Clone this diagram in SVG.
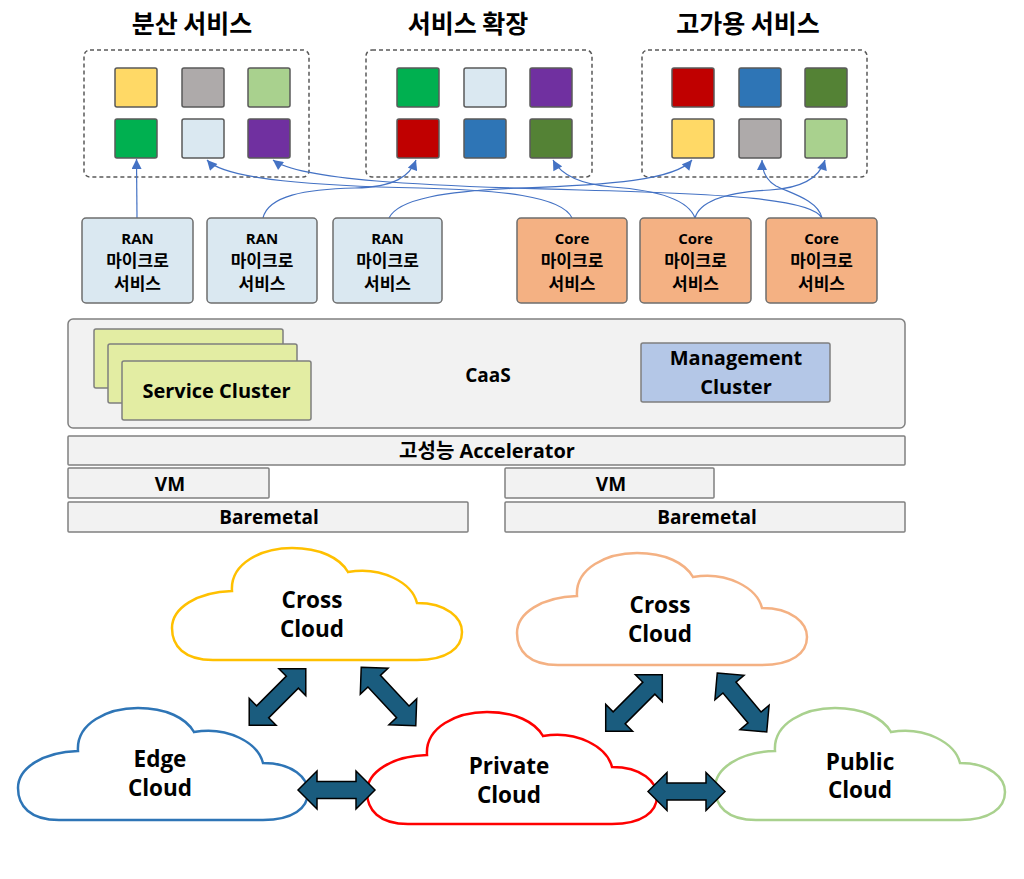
<svg xmlns="http://www.w3.org/2000/svg" xmlns:xlink="http://www.w3.org/1999/xlink" width="1024" height="879" viewBox="0 0 1024 879">
<style>
.lat{font-family:"Open Sans","Noto Sans CJK KR",sans-serif;font-weight:700;fill:#000;text-anchor:middle}
.kr{font-family:"Noto Sans CJK KR",sans-serif;font-weight:700;fill:#000;text-anchor:middle}
.ms{font-family:"Noto Sans CJK KR",sans-serif;font-weight:700;fill:#000;text-anchor:middle;font-size:17px}
.dash{fill:none;stroke:#595959;stroke-width:1.5;stroke-dasharray:4 3}
.sq{stroke:#595959;stroke-width:1.5}
.ran{fill:#DAE8F1;stroke:#6E6E6E;stroke-width:1.5}
.core{fill:#F4B183;stroke:#6E6E6E;stroke-width:1.5}
.layer{fill:#F2F2F2;stroke:#808080;stroke-width:1.5}
.sc{fill:#E3EDA3;stroke:#7F7F7F;stroke-width:1.5}
.conn{fill:none;stroke:#4472C4;stroke-width:1.2;marker-end:url(#ah)}
.cloud{fill:#fff;stroke-width:2.5}
.dbl{fill:#1A5C7E;stroke:#000;stroke-width:1.5;stroke-linejoin:miter}
</style>
<defs>
<marker id="ah" viewBox="0 0 10 10" refX="10" refY="5" markerUnits="userSpaceOnUse" markerWidth="11" markerHeight="10" orient="auto">
<path d="M0 0 L10 5 L0 10 Z" fill="#4472C4"/>
</marker>
<path id="cloudShape" d="M 41 112 C 12 112 0 98 0 80 C 0 60 25 44 60 43 C 58 15 90 0 120 0 C 148 0 168 10 176 24 C 210 18 240 35 245 55 C 275 55 290 70 290 84 C 290 100 275 112 245 112 Z"/>
<polygon id="dbl77" points="-38.5,0 -19.5,-19 -19.5,-8.5 19.5,-8.5 19.5,-19 38.5,0 19.5,19 19.5,8.5 -19.5,8.5 -19.5,19"/>
<polygon id="dbl80" points="-40,0 -21,-19 -21,-8.5 21,-8.5 21,-19 40,0 21,19 21,8.5 -21,8.5 -21,19"/>
</defs>
<rect width="1024" height="879" fill="#fff"/>

<g id="svc-distributed">
<text class="kr" x="192" y="33" font-size="25">분산 서비스</text>
<rect class="dash" x="84" y="50" width="225" height="127" rx="6"/>
<rect class="sq" x="115" y="68" width="42" height="39" rx="2" fill="#FFD966"/>
<rect class="sq" x="182" y="68" width="42" height="39" rx="2" fill="#AEAAAA"/>
<rect class="sq" x="248" y="68" width="42" height="39" rx="2" fill="#A9D18E"/>
<rect class="sq" x="115" y="119" width="42" height="39" rx="2" fill="#00B050"/>
<rect class="sq" x="182" y="119" width="42" height="39" rx="2" fill="#DAE8F1"/>
<rect class="sq" x="248" y="119" width="42" height="39" rx="2" fill="#7030A0"/>
</g>
<g id="svc-scale">
<text class="kr" x="468" y="33" font-size="25">서비스 확장</text>
<rect class="dash" x="366" y="50" width="226" height="127" rx="6"/>
<rect class="sq" x="397" y="68" width="42" height="39" rx="2" fill="#00B050"/>
<rect class="sq" x="464" y="68" width="42" height="39" rx="2" fill="#DAE8F1"/>
<rect class="sq" x="530" y="68" width="42" height="39" rx="2" fill="#7030A0"/>
<rect class="sq" x="397" y="119" width="42" height="39" rx="2" fill="#C00000"/>
<rect class="sq" x="464" y="119" width="42" height="39" rx="2" fill="#2E75B6"/>
<rect class="sq" x="530" y="119" width="42" height="39" rx="2" fill="#548235"/>
</g>
<g id="svc-ha">
<text class="kr" x="748" y="33" font-size="25">고가용 서비스</text>
<rect class="dash" x="642" y="50" width="225" height="127" rx="6"/>
<rect class="sq" x="672" y="68" width="42" height="39" rx="2" fill="#C00000"/>
<rect class="sq" x="739" y="68" width="42" height="39" rx="2" fill="#2E75B6"/>
<rect class="sq" x="805" y="68" width="42" height="39" rx="2" fill="#548235"/>
<rect class="sq" x="672" y="119" width="42" height="39" rx="2" fill="#FFD966"/>
<rect class="sq" x="739" y="119" width="42" height="39" rx="2" fill="#AEAAAA"/>
<rect class="sq" x="805" y="119" width="42" height="39" rx="2" fill="#A9D18E"/>
</g>

<g id="connectors">
<path class="conn" d="M 137 218 L 136.5 159"/>
<path class="conn" d="M 263 218 C 268 196 305 189 355 188 C 395 187 410 176 416 160"/>
<path class="conn" d="M 389 218 C 398 199 445 191 520 188 C 610 185 675 180 692 160"/>
<path class="conn" d="M 572 218 C 562 196 500 190 420 188 C 320 186 225 180 207 160"/>
<path class="conn" d="M 822 218 C 812 199 730 194 580 190 C 420 186 300 180 273 160"/>
<path class="conn" d="M 695 218 C 688 199 655 190 612 187 C 578 184 560 173 553 160"/>
<path class="conn" d="M 695 218 C 700 200 730 192 770 190 C 805 188 820 176 825 160"/>
<path class="conn" d="M 822 218 C 818 200 790 193 776 186 C 766 180 762 170 762 160"/>
</g>

<g id="ran1">
<rect class="ran" x="82" y="218" width="111" height="85" rx="4"/>
<text class="lat" x="137.5" y="244" font-size="15">RAN</text>
<text class="ms" x="137.5" y="267">마이크로</text>
<text class="ms" x="137.5" y="290">서비스</text>
</g>
<g id="ran2">
<rect class="ran" x="207" y="218" width="110" height="85" rx="4"/>
<text class="lat" x="262" y="244" font-size="15">RAN</text>
<text class="ms" x="262" y="267">마이크로</text>
<text class="ms" x="262" y="290">서비스</text>
</g>
<g id="ran3">
<rect class="ran" x="333" y="218" width="109" height="85" rx="4"/>
<text class="lat" x="387.5" y="244" font-size="15">RAN</text>
<text class="ms" x="387.5" y="267">마이크로</text>
<text class="ms" x="387.5" y="290">서비스</text>
</g>
<g id="core1">
<rect class="core" x="517" y="218" width="110" height="85" rx="4"/>
<text class="lat" x="572" y="244" font-size="15">Core</text>
<text class="ms" x="572" y="267">마이크로</text>
<text class="ms" x="572" y="290">서비스</text>
</g>
<g id="core2">
<rect class="core" x="640" y="218" width="111" height="85" rx="4"/>
<text class="lat" x="695.5" y="244" font-size="15">Core</text>
<text class="ms" x="695.5" y="267">마이크로</text>
<text class="ms" x="695.5" y="290">서비스</text>
</g>
<g id="core3">
<rect class="core" x="766" y="218" width="111" height="85" rx="4"/>
<text class="lat" x="821.5" y="244" font-size="15">Core</text>
<text class="ms" x="821.5" y="267">마이크로</text>
<text class="ms" x="821.5" y="290">서비스</text>
</g>

<g id="caas">
<rect class="layer" x="68" y="319" width="837" height="109" rx="5"/>
<text class="lat" x="488" y="382" font-size="19">CaaS</text>
</g>
<g id="service-cluster">
<rect class="sc" x="94" y="329" width="189" height="59" rx="2"/>
<rect class="sc" x="108" y="344" width="189" height="59" rx="2"/>
<rect class="sc" x="122" y="361" width="189" height="59" rx="2"/>
<text class="lat" x="216.5" y="398" font-size="20">Service Cluster</text>
</g>
<g id="management-cluster">
<rect x="641" y="343" width="189" height="59" rx="2" fill="#B4C7E7" stroke="#7F7F7F" stroke-width="1.5"/>
<text class="lat" x="736" y="365" font-size="20">Management</text>
<text class="lat" x="736" y="394" font-size="20">Cluster</text>
</g>
<g id="accelerator">
<rect class="layer" x="68" y="436" width="837" height="29" rx="1"/>
<text class="lat" x="487" y="458" font-size="20">고성능 Accelerator</text>
</g>
<g id="vm-left">
<rect class="layer" x="68" y="468" width="201" height="30" rx="1"/>
<text class="lat" x="170" y="491" font-size="19">VM</text>
</g>
<g id="vm-right">
<rect class="layer" x="505" y="468" width="209" height="30" rx="1"/>
<text class="lat" x="611" y="491" font-size="19">VM</text>
</g>
<g id="baremetal-left">
<rect class="layer" x="68" y="502" width="400" height="30" rx="1"/>
<text class="lat" x="269" y="524" font-size="19">Baremetal</text>
</g>
<g id="baremetal-right">
<rect class="layer" x="505" y="502" width="400" height="30" rx="1"/>
<text class="lat" x="707" y="524" font-size="19">Baremetal</text>
</g>

<g id="cross-cloud-1">
<use href="#cloudShape" class="cloud" stroke="#FFC000" transform="translate(172,548)"/>
<text class="lat" x="312" y="608" font-size="22.5">Cross</text>
<text class="lat" x="312" y="637" font-size="22.5">Cloud</text>
</g>
<g id="cross-cloud-2">
<use href="#cloudShape" class="cloud" stroke="#F4B183" transform="translate(517,553)"/>
<text class="lat" x="660" y="613" font-size="22.5">Cross</text>
<text class="lat" x="660" y="642" font-size="22.5">Cloud</text>
</g>
<g id="edge-cloud">
<use href="#cloudShape" class="cloud" stroke="#2E75B6" transform="translate(18,708)"/>
<text class="lat" x="160" y="767" font-size="22.5">Edge</text>
<text class="lat" x="160" y="796" font-size="22.5">Cloud</text>
</g>
<g id="private-cloud">
<use href="#cloudShape" class="cloud" stroke="#FF0000" transform="translate(367,712)"/>
<text class="lat" x="509" y="774" font-size="22.5">Private</text>
<text class="lat" x="509" y="803" font-size="22.5">Cloud</text>
</g>
<g id="public-cloud">
<use href="#cloudShape" class="cloud" stroke="#A9D18E" transform="translate(715,708)"/>
<text class="lat" x="860" y="770" font-size="22.5">Public</text>
<text class="lat" x="860" y="798" font-size="22.5">Cloud</text>
</g>

<g id="cloud-links">
<use href="#dbl80" class="dbl" transform="translate(277.5,697) rotate(-45)"/>
<use href="#dbl80" class="dbl" transform="translate(388.5,696.5) rotate(47)"/>
<use href="#dbl77" class="dbl" transform="translate(336.5,790)"/>
<use href="#dbl80" class="dbl" transform="translate(634,703) rotate(-45)"/>
<use href="#dbl77" class="dbl" transform="translate(742,702.5) rotate(50)"/>
<use href="#dbl77" class="dbl" transform="translate(686.5,791.5)"/>
</g>
</svg>
